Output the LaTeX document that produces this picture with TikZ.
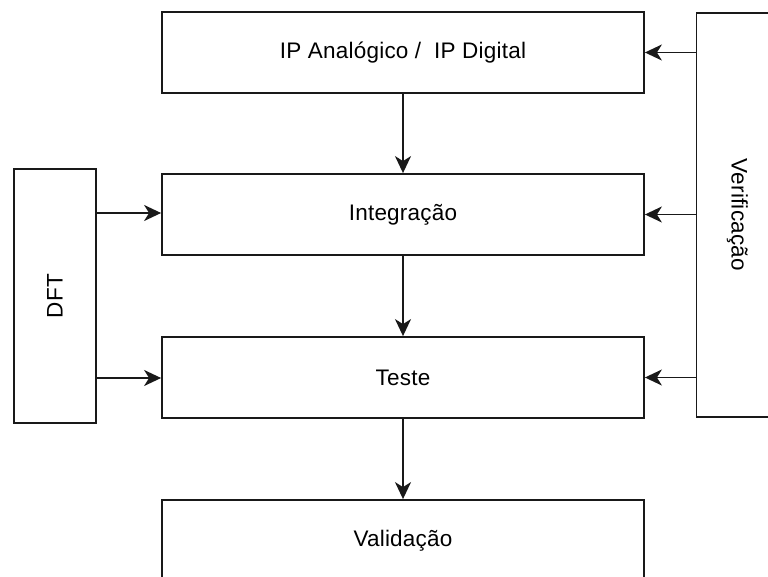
\documentclass[tikz,border=0pt]{standalone}
\usepackage{fontspec}
\setmainfont{Liberation Sans}[LetterSpace=1]
\usetikzlibrary{arrows.meta}
\begin{document}
\begin{tikzpicture}[x=1pt,y=-1pt,
  lbl/.style={font=\fontsize{22.5}{26}\selectfont},
  stage/.style={draw=black!90, line width=1.8pt, minimum width=482pt, minimum height=81pt,
    inner sep=0pt, lbl},
  side/.style={draw=black!90, line width=1.8pt, minimum width=82pt, inner sep=0pt},
  flow/.style={draw=black!90, line width=1.8pt,
    -{Stealth[length=17pt,width=16pt,inset=5pt]}}]
  \useasboundingbox (0,0) rectangle (768,577);
  % main chain of stages
  \node[stage] (ip)  at (403,52.5)  {IP Analógico /\ \ IP Digital};
  \node[stage] (int) at (403,214.5) {Integração};
  \node[stage] (tst) at (403,377.5) {Teste};
  \node[stage] (val) at (403,540.5) {Validação};
  % side columns
  \node[side, minimum height=254pt] (dft) at (55,296) {};
  \node[rotate=90, lbl] (dftlbl) at (dft.center) {DFT};
  \node[side, minimum height=404pt] (ver) at (737.5,215) {};
  \node[rotate=-90, lbl] (verlbl) at (ver.center) {Verificação};
  % connectors
  \draw[flow] (ip) -- (int);
  \draw[flow] (int) -- (tst);
  \draw[flow] (tst) -- (val);
  \draw[flow] (ver.west |- ip.east) -- (ip.east);
  \draw[flow] (ver.west |- int.east) -- (int.east);
  \draw[flow] (ver.west |- tst.east) -- (tst.east);
  \draw[flow] (dft.east |- 0,213) -- (int.west |- 0,213);
  \draw[flow] (dft.east |- 0,378) -- (tst.west |- 0,378);
\end{tikzpicture}
\end{document}
